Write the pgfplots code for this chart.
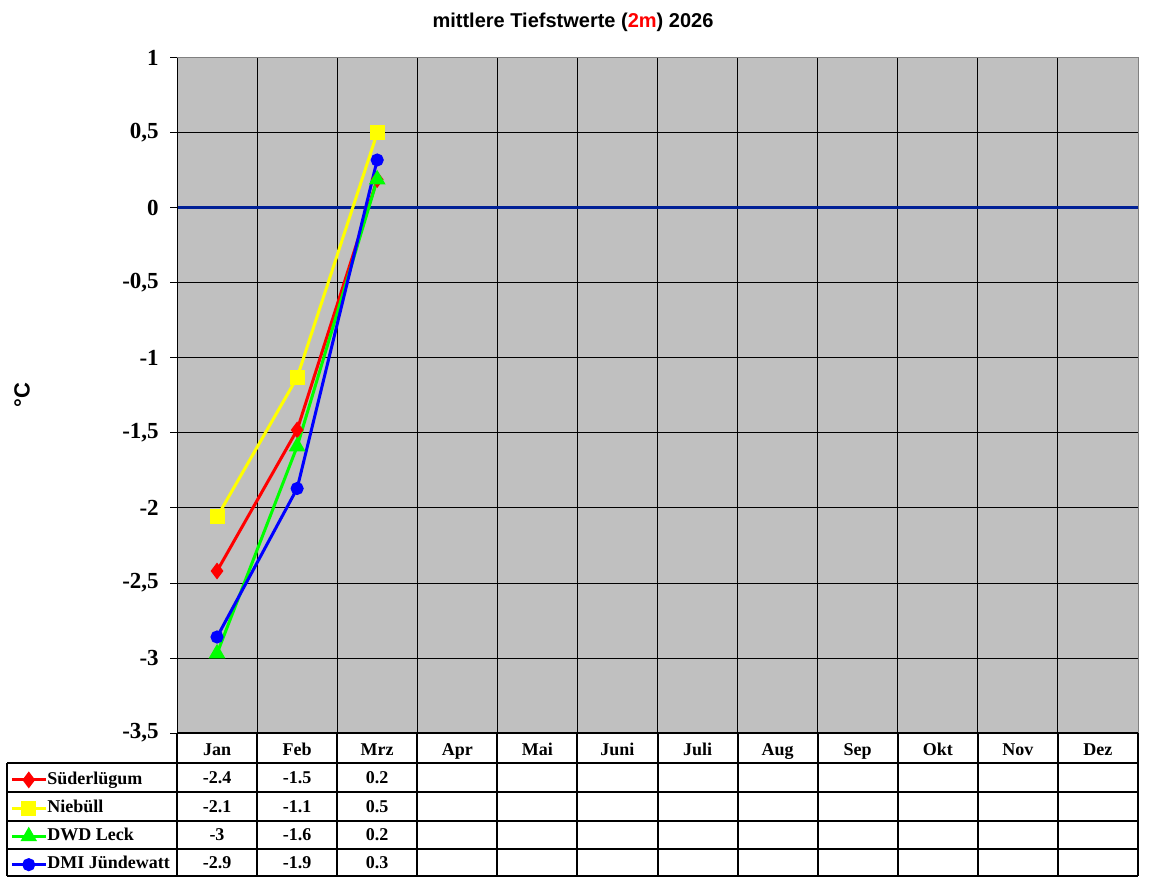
\documentclass[border=0pt]{standalone}
\usepackage{pgfplots}
\pgfplotsset{compat=1.18}
\usepackage{fontspec}
\setmainfont{Liberation Serif}
\newfontfamily\arial{Liberation Sans}

\definecolor{plotgray}{RGB}{192,192,192}
\definecolor{bordergray}{RGB}{128,128,128}
\definecolor{zeronavy}{RGB}{0,32,150}
\definecolor{cred}{RGB}{255,0,0}
\definecolor{cyellow}{RGB}{255,255,0}
\definecolor{cgreen}{RGB}{0,255,0}
\definecolor{cblue}{RGB}{0,0,255}

\newcommand{\tabfont}{\fontsize{13.5}{16}\bfseries\selectfont}

\begin{document}
\begin{tikzpicture}[x=0.75pt,y=0.75pt]
\path[use as bounding box] (0,0) rectangle (1152,882);

\begin{axis}[
  at={(132.75pt,111.75pt)}, anchor=south west,
  width=720.75pt, height=506.25pt, scale only axis,
  xmin=-0.5, xmax=11.5, ymin=-3.5, ymax=1,
  axis background/.style={fill=plotgray},
  axis line style={draw=none},
  xtick={0,...,11},
  xticklabels={Jan,Feb,Mrz,Apr,Mai,Juni,Juli,Aug,Sep,Okt,Nov,Dez},
  minor xtick={0.5,1.5,...,10.5},
  xminorgrids,
  minor grid style={black, line width=0.75pt},
  xtick style={draw=none},
  minor tick length=0pt,
  xticklabel style={font=\tabfont, anchor=base, yshift=-11.25pt, inner sep=0pt},
  ytick={-3.5,-3,-2.5,-2,-1.5,-1,-0.5,0,0.5,1},
  ymajorgrids,
  major grid style={black, line width=0.75pt},
  tick align=outside, tick pos=left,
  major tick length=5.25pt,
  ytick style={black, line width=0.75pt},
  yticklabel={\pgfmathprintnumber[use comma, assume math mode=true]{\tick}},
  yticklabel style={font=\fontsize{17.25}{20}\bfseries\selectfont, anchor=east, inner sep=0pt, xshift=-8.25pt},
  extra y ticks={0},
  extra y tick labels={},
  extra y tick style={ymajorgrids=true, major grid style={zeronavy, line width=2.25pt}, ytick style={draw=none}},
  legend style={at={(-0.1769,-0.04815)}, anchor=north west, draw=none, fill=none,
    inner xsep=2.25pt, inner ysep=0pt, column sep=0pt, row sep=0pt, font=\tabfont,
    nodes={inner sep=0pt, text height=9.5pt, text depth=3pt, minimum height=21.19pt}},
  legend cell align=left,
  legend image code/.code={\draw[mark repeat=2,mark phase=2,#1] plot coordinates {(0pt,0pt) (12.75pt,0pt) (25.5pt,0pt)};},
  clip=false
]
\addplot[cred, line width=2.25pt, mark=diamond*, mark size=4.5pt, mark options={solid}]
  coordinates {(0,-2.42) (1,-1.48) (2,0.19)};
\addlegendentry{Süderlügum}
\addplot[cyellow, line width=2.25pt, mark=square*, mark size=4.5pt, mark options={solid}]
  coordinates {(0,-2.06) (1,-1.13) (2,0.50)};
\addlegendentry{Niebüll}
\addplot[cgreen, line width=2.25pt, mark=triangle*, mark size=5pt, mark options={solid}]
  coordinates {(0,-2.97) (1,-1.59) (2,0.19)};
\addlegendentry{DWD Leck}
\addplot[cblue, line width=2.25pt, mark=*, mark size=3.75pt, mark options={solid}]
  coordinates {(0,-2.86) (1,-1.87) (2,0.32)};
\addlegendentry{DMI Jündewatt}

\draw[bordergray, line width=0.75pt] (rel axis cs:0,1) -- (rel axis cs:1,1) -- (rel axis cs:1,0);
\draw[black, line width=0.75pt] (rel axis cs:0,0) -- (rel axis cs:0,1);
\end{axis}

% data table below the plot
\draw[line width=1.5pt] (177,{882-733}) -- (1138,{882-733});
\foreach \yy in {763,792,821,849,876}
  \draw[line width=1.5pt] (7,{882-\yy}) -- (1138,{882-\yy});
\draw[line width=1.5pt] (7,{882-763}) -- (7,{882-876});
\foreach \k in {0,...,12}
  \draw[line width=1.5pt] ({177+80.083*\k},{882-733}) -- ({177+80.083*\k},{882-876});

\node[font=\tabfont] at (217.0,{882-777.5}) {-2.4};
\node[font=\tabfont] at (297.1,{882-777.5}) {-1.5};
\node[font=\tabfont] at (377.2,{882-777.5}) {0.2};
\node[font=\tabfont] at (217.0,{882-806.5}) {-2.1};
\node[font=\tabfont] at (297.1,{882-806.5}) {-1.1};
\node[font=\tabfont] at (377.2,{882-806.5}) {0.5};
\node[font=\tabfont] at (217.0,{882-835}) {-3};
\node[font=\tabfont] at (297.1,{882-835}) {-1.6};
\node[font=\tabfont] at (377.2,{882-835}) {0.2};
\node[font=\tabfont] at (217.0,{882-862.5}) {-2.9};
\node[font=\tabfont] at (297.1,{882-862.5}) {-1.9};
\node[font=\tabfont] at (377.2,{882-862.5}) {0.3};

\node[font=\arial\fontsize{15}{18}\bfseries\selectfont] at (573,860) {mittlere Tiefstwerte (\textcolor{cred}{2m}) 2026};
\node[rotate=90, font=\arial\fontsize{16.5}{20}\bfseries\selectfont] at (22,487) {°C};
\end{tikzpicture}
\end{document}
